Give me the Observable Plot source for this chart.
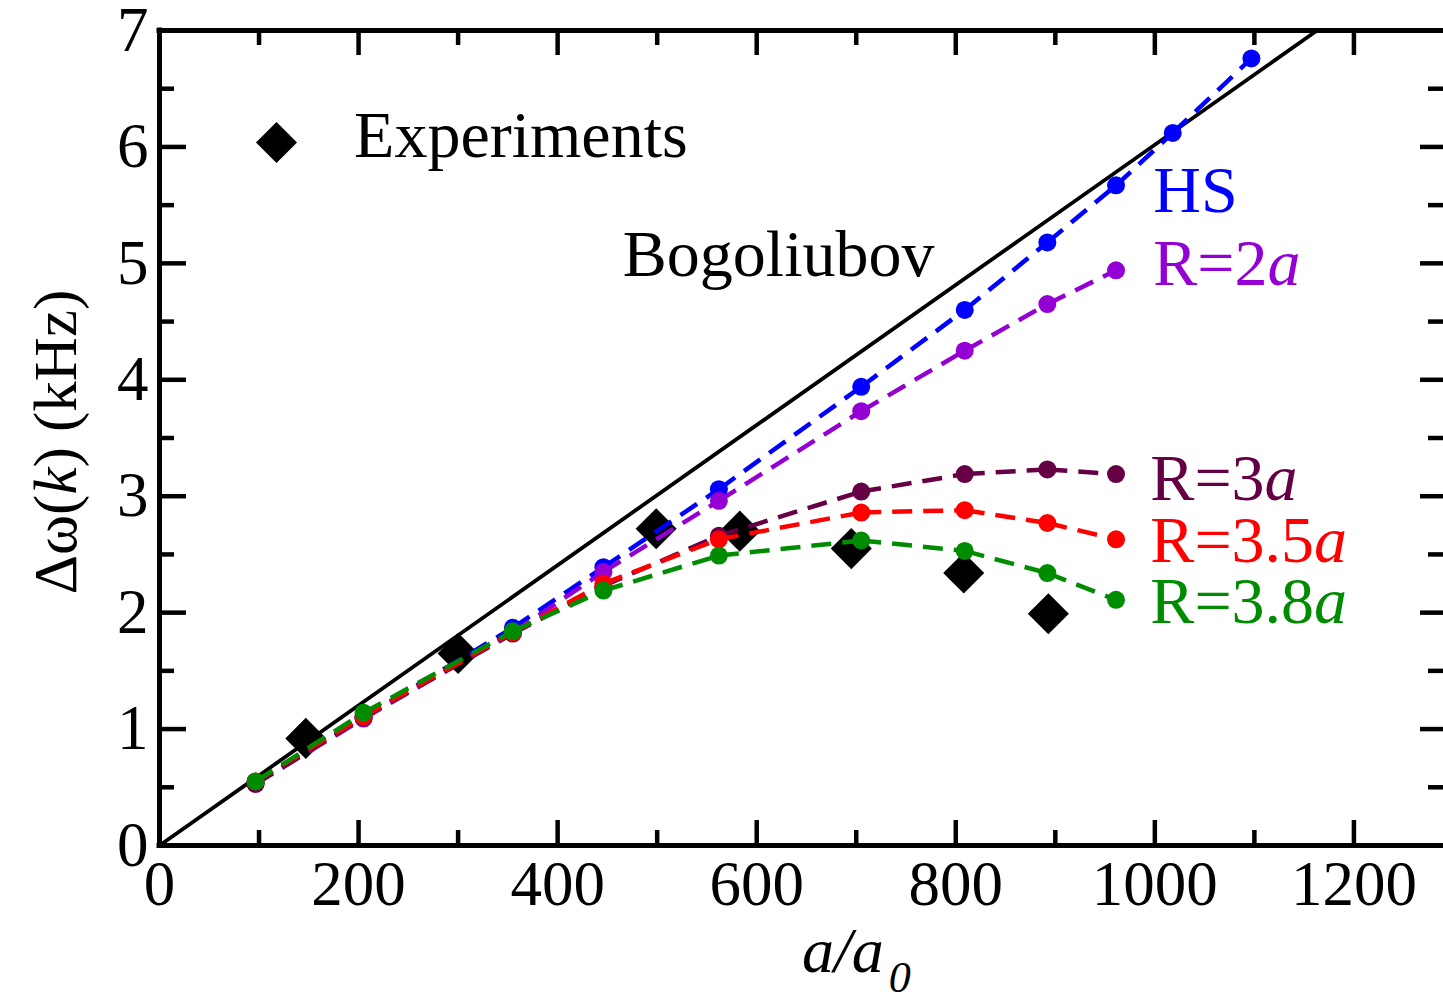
<!DOCTYPE html>
<html>
<head>
<meta charset="utf-8">
<script src="https://cdn.jsdelivr.net/npm/d3@7"></script>
<script src="https://cdn.jsdelivr.net/npm/@observablehq/plot@0.6"></script>
<style>
  html, body { margin: 0; padding: 0; background: #fff; }
  #chart { width: 1443px; height: 1000px; overflow: hidden; }
</style>
</head>
<body>
<div id="chart"></div>
<script>
// Scattering length a/a0 at which each model was evaluated
const xModel = [96.5, 205, 355, 446, 562, 705, 809, 892, 961, 1018, 1097];

// Excitation shift Δω(k) in kHz for each model
const hsY   = [0.54, 1.10, 1.87, 2.39, 3.06, 3.94, 4.60, 5.18, 5.67, 6.12, 6.76];
const r2Y   = [0.53, 1.09, 1.83, 2.35, 2.96, 3.73, 4.25, 4.65, 4.94];
const r3Y   = [0.53, 1.10, 1.82, 2.23, 2.66, 3.04, 3.19, 3.23, 3.19];
const r35Y  = [0.55, 1.11, 1.83, 2.25, 2.63, 2.86, 2.88, 2.77, 2.63];
const r38Y  = [0.55, 1.14, 1.84, 2.19, 2.49, 2.62, 2.53, 2.34, 2.11];

// Measured shifts
const expX = [147, 300, 499, 583, 695, 808, 893];
const expY = [0.92, 1.65, 2.72, 2.70, 2.55, 2.34, 1.99];

// Bogoliubov (linear) prediction, end points
const bogX = [0, 1163];
const bogY = [0, 7];

// Axis ticks
const xMajor = [0, 200, 400, 600, 800, 1000, 1200];
const xMinor = [100, 300, 500, 700, 900, 1100];
const yMajor = [0, 1, 2, 3, 4, 5, 6, 7];
const yMinor = [0.5, 1.5, 2.5, 3.5, 4.5, 5.5, 6.5];

const seriesNames  = ["HS", "R=2a", "R=3a", "R=3.5a", "R=3.8a"];
const seriesColors = ["#0000ff", "#9400d3", "#660044", "#ff0000", "#008c00"];
const seriesValues = [hsY, r2Y, r3Y, r35Y, r38Y];

const FONT = "'Liberation Serif', 'Times New Roman', Times, serif";
const W = 1443, H = 1000;
const mL = 159, mT = 30, mR = 0, mB = 155;
const innerW = W - mL - mR, innerH = H - mT - mB;

const series = seriesNames.map((name, i) => {
  const ys = seriesValues[i];
  const pts = ys.map((y, j) => ({x: xModel[j], y}));
  const segs = pts.slice(1).map((p, j) => ({x1: pts[j].x, y1: pts[j].y, x2: p.x, y2: p.y}));
  return {name, color: seriesColors[i], pts, segs};
});
const experiments = expX.map((x, i) => ({x, y: expY[i]}));
const bogoliubov = bogX.map((x, i) => ({x, y: bogY[i]}));

const seriesMarks = series.flatMap(s => [
  Plot.link(s.segs, {x1: "x1", y1: "y1", x2: "x2", y2: "y2", stroke: s.color,
    strokeWidth: 4.5, strokeDasharray: "20,11"}),
  Plot.dot(s.pts, {x: "x", y: "y", r: 9, fill: s.color, stroke: "none"})
]);

const svg = Plot.plot({
  width: W, height: H,
  marginLeft: mL, marginTop: mT, marginRight: mR, marginBottom: mB,
  style: {fontFamily: FONT, fontSize: "63px", background: "#fff", color: "#000", overflow: "visible"},
  x: {domain: [0, 1290], ticks: xMajor, tickSize: 0, tickPadding: 15, label: null, tickFormat: d => String(d)},
  y: {domain: [0, 7], ticks: yMajor, tickSize: 0, tickPadding: 11, label: null, tickFormat: d => String(d)},
  marks: [
    // inward ticks on all four sides
    Plot.tickX(xMajor, {x: d => d, insetTop: innerH - 25, strokeWidth: 4.5}),
    Plot.tickX(xMajor, {x: d => d, insetBottom: innerH - 25, strokeWidth: 4.5}),
    Plot.tickX(xMinor, {x: d => d, insetTop: innerH - 15, strokeWidth: 4.5}),
    Plot.tickX(xMinor, {x: d => d, insetBottom: innerH - 15, strokeWidth: 4.5}),
    Plot.tickY(yMajor, {y: d => d, insetRight: innerW - 27, strokeWidth: 4.5}),
    Plot.tickY(yMajor, {y: d => d, insetLeft: innerW - 23, strokeWidth: 4.5}),
    Plot.tickY(yMinor, {y: d => d, insetRight: innerW - 15, strokeWidth: 4.5}),
    Plot.tickY(yMinor, {y: d => d, insetLeft: innerW - 15, strokeWidth: 4.5}),
    // plot frame (left, bottom, top)
    Plot.ruleY([0, 7], {strokeWidth: 5, strokeLinecap: "square"}),
    Plot.ruleX([0], {strokeWidth: 5, strokeLinecap: "square"}),
    // experiments
    Plot.dot(experiments, {x: "x", y: "y", symbol: "diamond2", r: 18.5, fill: "#000", stroke: "none"}),
    // Bogoliubov line
    Plot.line(bogoliubov, {x: "x", y: "y", stroke: "#000", strokeWidth: 3.8}),
    ...seriesMarks,
    // legend key
    Plot.dot([0], {frameAnchor: "top-left", dx: 117, dy: 112, symbol: "diamond2", r: 18.5, fill: "#000", stroke: "none"})
  ]
});

const root = d3.select(svg);
const sx = svg.scale("x"), sy = svg.scale("y");

function label(parts, x, y, color, size) {
  const t = root.append("text")
    .attr("x", sx.apply(x)).attr("y", sy.apply(y))
    .attr("text-anchor", "start")
    .attr("fill", color).attr("font-size", size).attr("font-family", FONT);
  for (const [s, italic] of parts) {
    t.append("tspan").text(s).attr("font-style", italic ? "italic" : null);
  }
  return t;
}

label([["Experiments", false]], 196, 5.91, "#000", 66);
label([["Bogoliubov", false]], 466, 4.89, "#000", 66);
label([["HS", false]], 999, 5.44, seriesColors[0], 66);
label([["R=2", false], ["a", true]], 999, 4.81, seriesColors[1], 66);
label([["R=3", false], ["a", true]], 996, 2.96, seriesColors[2], 66);
label([["R=3.5", false], ["a", true]], 996, 2.43, seriesColors[3], 66);
label([["R=3.8", false], ["a", true]], 996, 1.91, seriesColors[4], 66);

// x-axis title: a/a0
const xt = root.append("text")
  .attr("x", 802).attr("y", 972)
  .attr("text-anchor", "start")
  .attr("font-family", FONT).attr("font-size", 64).attr("font-style", "italic").attr("fill", "#000");
xt.append("tspan").text("a/a");
xt.append("tspan").text("0").attr("font-size", 44).attr("dx", 5).attr("dy", 20);

// y-axis title: Δω(k) (kHz)
const yt = root.append("text")
  .attr("transform", "translate(76,442) rotate(-90)")
  .attr("text-anchor", "middle")
  .attr("font-family", FONT).attr("font-size", 61).attr("fill", "#000");
yt.append("tspan").text("Δω(");
yt.append("tspan").text("k").attr("font-style", "italic");
yt.append("tspan").text(") (kHz)");

document.getElementById("chart").appendChild(svg);
</script>
</body>
</html>
